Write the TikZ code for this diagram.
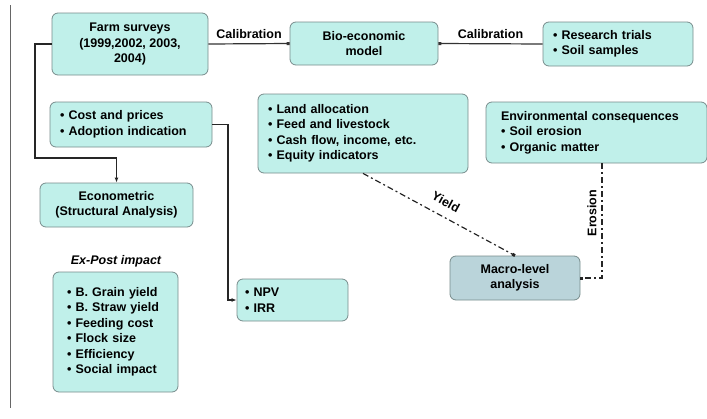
\documentclass[tikz,border=0pt]{standalone}
\usepackage{fontspec}
\setmainfont{Liberation Sans}
\usetikzlibrary{arrows.meta}
\definecolor{boxfill}{RGB}{192,240,234}
\definecolor{macrofill}{RGB}{186,212,218}
\definecolor{boxline}{RGB}{120,140,140}
\begin{document}
\begin{tikzpicture}[x=1pt,y=-1pt,
    font=\fontsize{12.5}{15.5}\selectfont\bfseries,
    box/.style={draw=boxline,fill=boxfill,rounded corners=6pt,line width=0.8pt,
      align=center,inner sep=0pt},
    bulletbox/.style={box,align=left,inner xsep=10pt},
    conn/.style={draw=black!85,line width=1.4pt,-{Latex[length=5pt,width=4pt]}},
    calib/.style={draw=black!80,line width=1.2pt,-{Square[length=3pt,width=3pt]}},
    dashconn/.style={draw=black!85,line width=1.2pt,-{Square[length=3pt,width=3pt]},
      dash pattern=on 6pt off 3pt on 2pt off 3pt}]
  \useasboundingbox (0,0) rectangle (707,418);
  % left margin rule
  \draw[black!60,line width=0.8pt] (10,5) -- (10,408);

  % boxes
  \node[box,minimum width=156pt,minimum height=62pt] (farm) at (130,44)
    {Farm surveys\\(1999,2002, 2003,\\2004)};
  \node[box,minimum width=148pt,minimum height=43pt] (bio) at (364,43.5)
    {Bio-economic\\model};
  \node[bulletbox,text width=130pt,minimum height=44pt] (trials) at (618,44)
    {\textbullet\ Research trials\\\textbullet\ Soil samples};
  \node[bulletbox,text width=142pt,minimum height=45pt] (cost) at (131,124.5)
    {\textbullet\ Cost and prices\\\textbullet\ Adoption indication};
  \node[box,minimum width=153pt,minimum height=44pt] (econ) at (116.5,205)
    {Econometric\\(Structural Analysis)};
  \node[bulletbox,text width=190pt,minimum height=79pt] (land) at (363,133.5)
    {\textbullet\ Land allocation\\\textbullet\ Feed and livestock\\
     \textbullet\ Cash flow, income, etc.\\\textbullet\ Equity indicators};
  \node[bulletbox,text width=191pt,minimum height=61pt,inner xsep=15pt] (env) at (596.5,132.5)
    {Environmental consequences\\\textbullet\ Soil erosion\\\textbullet\ Organic matter};
  \node[box,fill=macrofill,minimum width=130pt,minimum height=44pt] (macro) at (515,278)
    {Macro-level\\analysis};
  \node[bulletbox,text width=95pt,minimum height=42pt,inner xsep=8pt] (npv) at (292.5,300)
    {\textbullet\ NPV\\\textbullet\ IRR};
  \node[font=\fontsize{12.5}{15.5}\selectfont\bfseries\itshape] (expostlbl) at (116,261) {Ex-Post impact};
  \node[bulletbox,text width=97pt,minimum height=120pt,inner xsep=14pt] (expost) at (115.5,332)
    {\textbullet\ B. Grain yield\\\textbullet\ B. Straw yield\\\textbullet\ Feeding cost\\
     \textbullet\ Flock size\\\textbullet\ Efficiency\\\textbullet\ Social impact};

  % connectors
  \coordinate (bendA) at (35,158);
  \coordinate (bendB) at (228,300);
  \coordinate (erotop) at ([xshift=5.5pt]env.south);
  \draw[calib] (farm.east) -- node[above=1pt] {Calibration} (bio.west);
  \draw[calib] (trials.west) -- node[above=1pt] {Calibration} (bio.east);
  \draw[conn] (farm.west) -| (bendA) -| (econ.north);
  \draw[conn] (cost.east) -| (bendB) |- (npv.west);
  \draw[dashconn] (land.south) -- node[sloped,above=6pt] {Yield} (macro.north);
  \draw[dashconn] (erotop) |- (macro.east);
  \node[rotate=90] (erolbl) at (592,213) {Erosion};
\end{tikzpicture}
\end{document}
